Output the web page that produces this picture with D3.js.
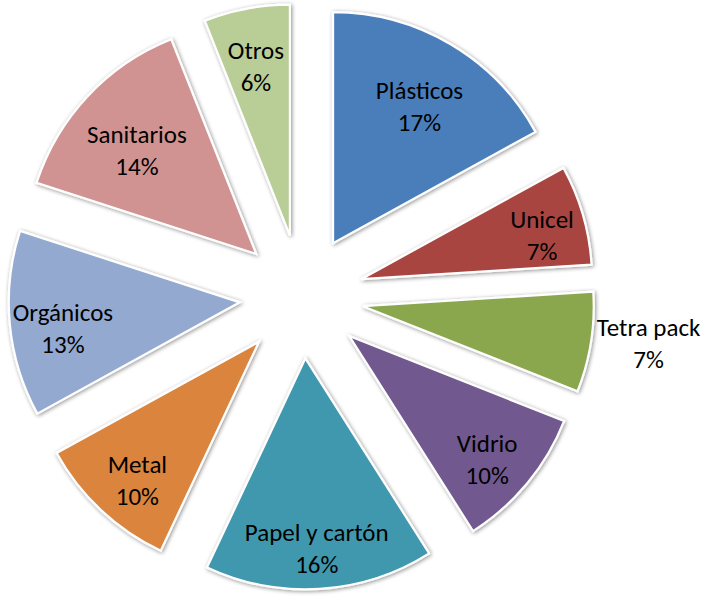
<!DOCTYPE html>
<html>
<head>
<meta charset="utf-8">
<script src="https://cdn.jsdelivr.net/npm/d3@7"></script>
<style>
  html, body { margin: 0; padding: 0; background: #ffffff; }
  svg { display: block; }
  .lbl { font-family: Carlito, Calibri, Lato, "Noto Sans", sans-serif; fill: #000; }
</style>
</head>
<body>
<svg id="chart" width="714" height="597"></svg>
<script>
// Composition of the waste stream, share of each material (%)
const categories = ["Plásticos", "Unicel", "Tetra pack", "Vidrio", "Papel y cartón",
                    "Metal", "Orgánicos", "Sanitarios", "Otros"];
const shares = [17, 7, 7, 10, 16, 10, 13, 14, 6];
const sliceColors = ["#4A7EBB", "#A94441", "#8AA74E", "#71588F", "#4198AF",
                     "#DB843D", "#93A9CF", "#D19392", "#B9CD96"];

// Layout
const W = 714, H = 597;
const cx = 301.5, cy = 296.5;   // pie centre
const R = 231;                  // slice radius
const explode = 62;             // distance each slice is pulled out
const fontSize = 25, lineGap = 32;
const capH = 0.72 * fontSize;
const boxTop = 30, boxBottom = 13;   // label box margins around the ink
const reach = R + 1;                 // outer limit of a label box along its bisector
const outsidePad = 6;

const svg = d3.select("#chart");

// soft shadow under every slice
const defs = svg.append("defs");
const f = defs.append("filter").attr("id", "shade")
  .attr("x", "-10%").attr("y", "-10%").attr("width", "120%").attr("height", "120%");
f.append("feGaussianBlur").attr("in", "SourceAlpha").attr("stdDeviation", 2.2).attr("result", "b");
f.append("feOffset").attr("in", "b").attr("dx", 0.5).attr("dy", 1).attr("result", "o");
f.append("feComponentTransfer").attr("in", "o").attr("result", "s")
  .append("feFuncA").attr("type", "linear").attr("slope", 0.45);
const m = f.append("feMerge");
m.append("feMergeNode").attr("in", "s");
m.append("feMergeNode").attr("in", "SourceGraphic");

const total = d3.sum(shares);
const pie = d3.pie().sort(null).value(d => d)(shares);
const arc = d3.arc().innerRadius(0).outerRadius(R);

const slices = pie.map((p, i) => {
  const mid = (p.startAngle + p.endAngle) / 2;
  return {
    p, i, mid,
    name: categories[i],
    pct: Math.round(p.value / total * 100) + "%",
    ax: cx + explode * Math.sin(mid),
    ay: cy - explode * Math.cos(mid)
  };
});

const g = svg.append("g");
g.selectAll("path.slice").data(slices).join("path")
  .attr("class", "slice")
  .attr("transform", d => `translate(${d.ax},${d.ay})`)
  .attr("d", d => arc(d.p))
  .attr("fill", d => sliceColors[d.i])
  .attr("stroke", "#ffffff")
  .attr("stroke-width", 2.2)
  .attr("stroke-linejoin", "miter")
  .attr("filter", "url(#shade)");

// data labels: name over percentage, placed at the inside end of the slice,
// or just outside the rim when the text is wider than the slice
const labels = svg.append("g");
slices.forEach(d => {
  const t = labels.append("text").attr("class", "lbl")
    .attr("font-size", fontSize).attr("text-anchor", "middle");
  const l1 = t.append("tspan").attr("x", 0).attr("y", 0).text(d.name);
  const l2 = t.append("tspan").attr("x", 0).attr("y", lineGap).text(d.pct);
  const w = Math.max(l1.node().getComputedTextLength(), l2.node().getComputedTextLength());
  const inkTop = -capH, inkBottom = lineGap;
  const ux = Math.sin(d.mid), uy = -Math.cos(d.mid);
  const span = d.p.endAngle - d.p.startAngle;
  const chord = 2 * 0.78 * R * Math.sin(span / 2);
  if (w <= chord) {
    // label box (ink plus margins), centred on the bisector, pushed out until it meets the rim
    const bTop = inkTop - boxTop, bBot = inkBottom + boxBottom;
    const hh = (bBot - bTop) / 2, bc = (bTop + bBot) / 2;
    const s = reach - (w / 2 * Math.abs(ux) + hh * Math.abs(uy));
    const bx = d.ax + s * ux, by = d.ay + s * uy;
    t.attr("transform", `translate(${bx},${by - bc})`);
  } else {
    const ex = d.ax + (R + outsidePad) * ux, ey = d.ay + (R + outsidePad) * uy;
    const bx = ux >= 0 ? ex + w / 2 : ex - w / 2;
    t.attr("transform", `translate(${bx},${ey - (inkTop + inkBottom) / 2})`);
  }
});
</script>
</body>
</html>
